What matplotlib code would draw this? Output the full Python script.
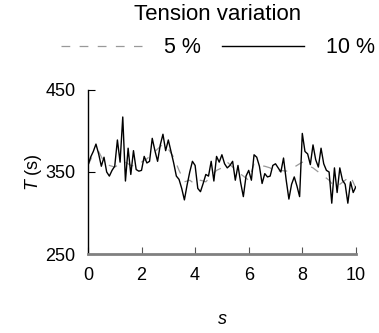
import numpy as np
import matplotlib
matplotlib.use("Agg")
import matplotlib.pyplot as plt
from matplotlib.lines import Line2D

plt.rcParams['font.family'] = ['Liberation Sans', 'DejaVu Sans']
plt.rcParams['mathtext.fontset'] = 'custom'
plt.rcParams['mathtext.it'] = 'Liberation Sans:italic'
plt.rcParams['mathtext.rm'] = 'Liberation Sans'

# 10 % tension variation (step 0.1)
s_10 = [i / 10 for i in range(101)]
T_10 = [358, 368, 375, 384, 372, 357, 368, 350, 345, 352,
        357, 389, 362, 417, 339, 379, 347, 376, 353, 351,
        352, 369, 361, 363, 391, 376, 363, 383, 396, 376,
        389, 375, 361, 345, 341, 330, 316, 334, 350, 363,
        358, 330, 326, 336, 347, 345, 363, 339, 369, 362,
        371, 360, 355, 358, 363, 340, 358, 337, 320, 345,
        352, 340, 371, 368, 357, 336, 348, 344, 345, 358,
        360, 355, 350, 367, 340, 317, 335, 344, 333, 320,
        397, 375, 372, 359, 383, 365, 356, 379, 360, 352,
        350, 312, 355, 325, 355, 340, 335, 312, 338, 325,
        332]

# 5 % tension variation (step 0.2)
s_5 = [i / 5 for i in range(51)]
T_5 = [358, 372, 375, 362, 358, 356, 360, 362, 358, 357,
       362, 366, 372, 378, 384, 378, 368, 352, 338, 340,
       335, 340, 338, 345, 352, 355, 362, 356, 350, 345,
       340, 360, 358, 357, 355, 349, 352, 351, 354, 358,
       362, 358, 355, 350, 345, 340, 332, 335, 340, 345,
       330]

x_ticks = [0, 2, 4, 6, 8, 10]
y_ticks = [250, 350, 450]

fig = plt.figure(figsize=(3.79, 3.33), dpi=100)
ax = fig.add_axes([0.232, 0.237, 0.707, 0.493])

dash = (0, (7, 7.5))
ax.plot(s_5, T_5, color='#999999', lw=0.9, ls=dash)
ax.plot(s_10, T_10, color='black', lw=1.0)

ax.set_xlim(0, 10)
ax.set_ylim(250, 450)
ax.set_xticks(x_ticks)
ax.set_yticks(y_ticks)
ax.tick_params(direction='in', labelsize=13, length=5)
ax.tick_params(axis='x', pad=9, color='#555555')
ax.tick_params(axis='y', pad=9)
for side in ['top', 'right']:
    ax.spines[side].set_visible(False)
ax.spines['left'].set_color('black')
ax.spines['left'].set_linewidth(1.0)
ax.spines['bottom'].set_color('#808080')
ax.spines['bottom'].set_linewidth(2.0)

ax.set_xlabel('$s$', fontsize=13, labelpad=20)
ax.set_ylabel('$T$ (s)', fontsize=13, labelpad=1)

fig.text(0.575, 0.955, 'Tension variation', fontsize=16,
         ha='center', va='center')
handles = [Line2D([], [], color='#999999', lw=0.9, ls=dash),
           Line2D([], [], color='black', lw=1.0)]
leg = fig.legend(handles, ['5 %', '10 %'], loc='center',
                 bbox_to_anchor=(0.574, 0.856), ncol=2, frameon=False,
                 fontsize=15.5, handlelength=3.8, handletextpad=1.0,
                 columnspacing=1.0, borderpad=0, borderaxespad=0)

fig.savefig('out.png', dpi=100)
